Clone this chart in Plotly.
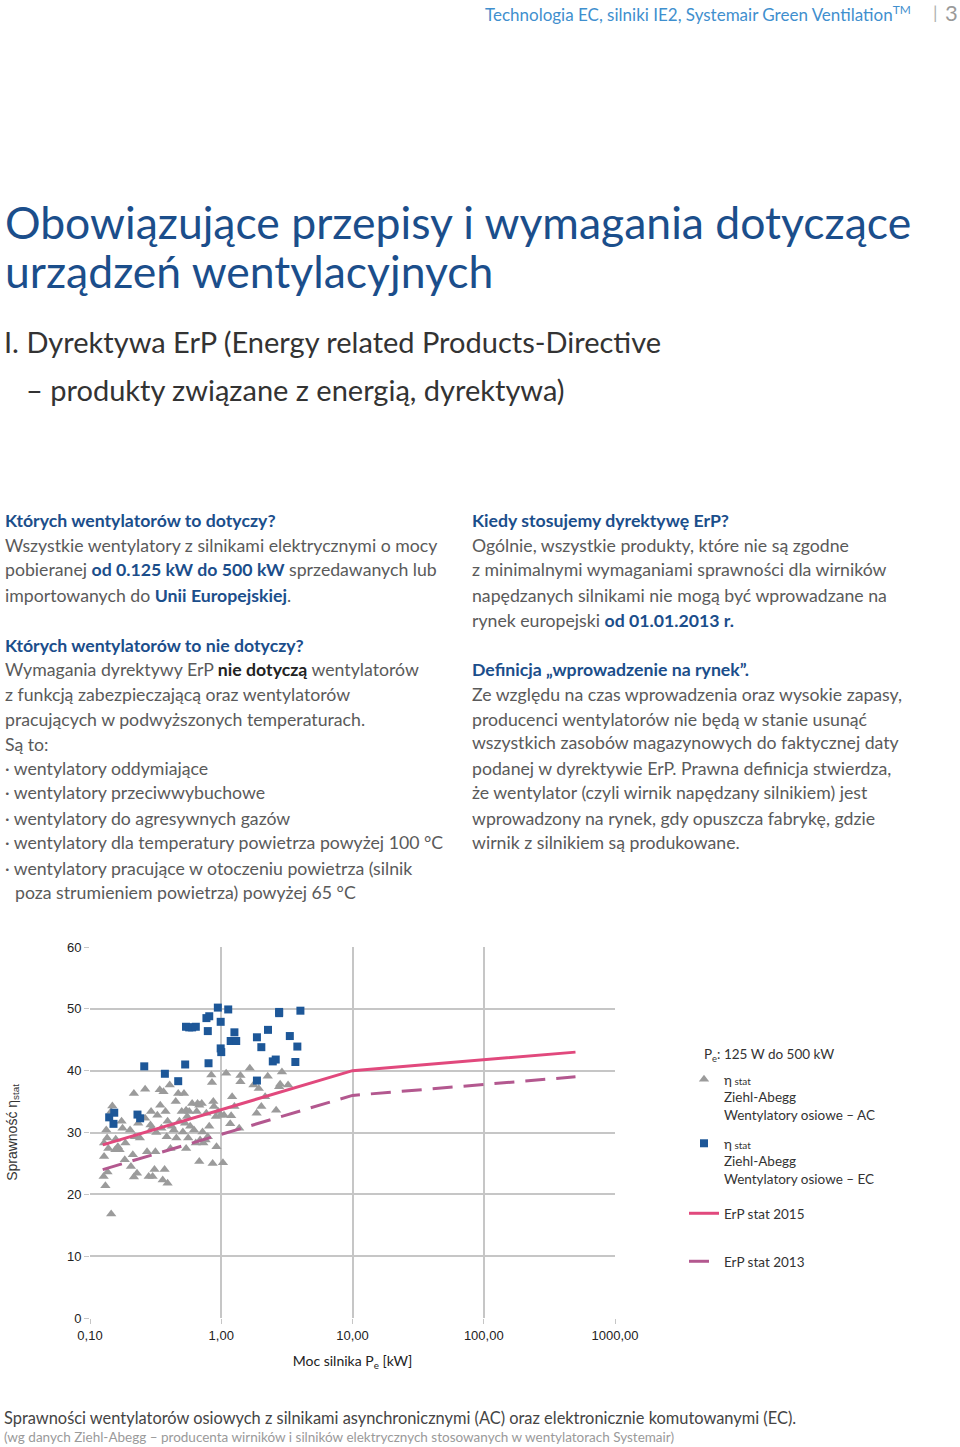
import plotly.graph_objects as go

# ---------------- data ----------------
ac_power = [0.145, 0.131, 0.127, 0.136, 0.128, 0.133, 0.128, 0.135, 0.138, 0.148,
            0.145, 0.157, 0.163, 0.168, 0.156, 0.174, 0.177, 0.184, 0.186, 0.202,
            0.205, 0.212, 0.216, 0.216, 0.22, 0.228, 0.233, 0.24, 0.263, 0.263,
            0.272, 0.28, 0.289, 0.292, 0.297, 0.30, 0.31, 0.315, 0.32, 0.326,
            0.34, 0.343, 0.35, 0.358, 0.363, 0.37, 0.376, 0.384, 0.39, 0.39,
            0.405, 0.41, 0.42, 0.435, 0.45, 0.455, 0.47, 0.48, 0.50, 0.51,
            0.52, 0.53, 0.54, 0.54, 0.55, 0.56, 0.57, 0.58, 0.60, 0.62,
            0.64, 0.65, 0.66, 0.68, 0.68, 0.69, 0.71, 0.72, 0.73, 0.76,
            0.77, 0.79, 0.81, 0.84, 0.85, 0.86, 0.87, 0.88, 0.91, 0.92,
            0.95, 0.99, 1.03, 1.05, 1.09, 1.17, 1.19, 1.21, 1.26, 1.37,
            1.40, 1.40, 1.65, 1.76, 1.86, 1.93, 2.02, 2.16, 2.26, 2.62,
            2.76, 2.81, 2.90, 3.23]
ac_eff = [16.8, 21.4, 22.9, 23.6, 26.1, 30.4, 28.3, 29.1, 27.4, 34.3,
          33.4, 28.9, 27.7, 27.2, 27.2, 31.8, 30.7, 25.6, 28.3, 30.4,
          24.5, 26.4, 22.8, 36.3, 29.3, 23.4, 31.5, 29.1, 37.0, 32.3,
          26.9, 22.9, 31.2, 33.4, 30.7, 22.9, 24.0, 26.9, 30.0, 32.8,
          36.9, 34.4, 30.7, 22.3, 36.6, 24.0, 33.4, 29.3, 31.8, 21.8,
          37.7, 27.4, 31.0, 30.4, 35.0, 29.1, 36.3, 31.8, 33.4, 30.1,
          36.3, 31.5, 33.6, 27.4, 32.6, 29.1, 33.4, 31.0, 34.7, 30.4,
          28.3, 33.4, 34.7, 25.3, 34.4, 28.8, 34.7, 30.1, 28.3, 28.8,
          33.1, 29.3, 31.0, 39.3, 38.1, 25.0, 35.0, 34.2, 32.6, 27.7,
          33.4, 32.8, 25.1, 32.8, 39.6, 31.4, 32.7, 35.8, 34.2, 30.7,
          39.2, 38.2, 40.4, 37.7, 33.1, 37.1, 34.2, 35.8, 39.1, 33.6,
          37.4, 37.8, 39.8, 37.7]

ec_power = [0.140, 0.153, 0.151, 0.230, 0.241, 0.259, 0.372, 0.470, 0.531, 0.539,
            0.57, 0.60, 0.64, 0.771, 0.81, 0.79, 0.80, 0.942, 0.99, 0.99,
            1.0, 1.13, 1.18, 1.26, 1.30, 1.87, 2.02, 1.87, 2.27, 2.47,
            2.60, 2.76, 2.76, 3.33, 3.67, 3.80, 4.01]
ec_eff = [32.45, 33.2, 31.4, 32.9, 32.3, 40.7, 39.5, 38.3, 41.0, 47.1,
          47.0, 47.0, 47.1, 48.5, 48.8, 46.4, 41.2, 50.2, 47.9, 43.6,
          43.0, 49.9, 44.8, 46.2, 44.8, 45.4, 43.8, 38.4, 46.6, 41.5,
          41.8, 49.5, 49.3, 45.6, 41.4, 43.9, 49.7]

erp_power = [0.125, 10, 500]
erp_2015 = [28.0, 40.0, 43.0]
erp_2013 = [24.0, 36.0, 39.0]

x_tickvals = [0.1, 1, 10, 100, 1000]
x_ticktext = ["0,10", "1,00", "10,00", "100,00", "1000,00"]
y_tickvals = [0, 10, 20, 30, 40, 50, 60]

# ---------------- styling ----------------
W, H = 960, 1447
BLUE = "#1b4e8b"
LIGHTBLUE = "#3f8fce"
BODY = "#5a5a5a"
BODY_FONT = "Lato, 'Open Sans', sans-serif"
ARIAL = "'Liberation Sans', Arial, sans-serif"

annotations = []


def txt(x, y, text, size, color, family=BODY_FONT, anchor="left"):
    annotations.append(dict(
        x=x / W, y=1 - y / H, xref="paper", yref="paper", text=text,
        showarrow=False, xanchor=anchor, yanchor="middle",
        font=dict(size=size, color=color, family=family)))


def b(t, color=BLUE):
    return f"<b><span style='color:{color}'>{t}</span></b>"


# header
txt(913, 14, "Technologia EC, silniki IE2, Systemair Green Ventilation<sup>TM</sup>", 17, LIGHTBLUE, anchor="right")
txt(931, 12, "|", 18, "#b0b0b0", anchor="left")
txt(943, 12, "3", 22, "#9a9a9a", anchor="left")

# title
txt(3, 222, "Obowiązujące przepisy i wymagania dotyczące", 44.5, BLUE)
txt(3, 270, "urządzeń wentylacyjnych", 44.5, BLUE)
txt(2, 341, "I. Dyrektywa ErP (Energy related Products-Directive", 29, "#333333")
txt(24, 389, "– produkty związane z energią, dyrektywa)", 29, "#333333")

# left column
FS = 17.7
left = [
    (520, b("Których wentylatorów to dotyczy?"), 0),
    (545, "Wszystkie wentylatory z silnikami elektrycznymi o mocy", 0),
    (570, "pobieranej " + b("od 0.125 kW do 500 kW") + " sprzedawanych lub", 0),
    (595, "importowanych do " + b("Unii Europejskiej") + ".", 0),
    (645, b("Których wentylatorów to nie dotyczy?"), 0),
    (669, "Wymagania dyrektywy ErP " + b("nie dotyczą", "#222222") + " wentylatorów", 0),
    (694, "z funkcją zabezpieczającą oraz wentylatorów", 0),
    (719, "pracujących w podwyższonych temperaturach.", 0),
    (744, "Są to:", 0),
    (768, "· wentylatory oddymiające", 0),
    (793, "· wentylatory przeciwwybuchowe", 0),
    (818, "· wentylatory do agresywnych gazów", 0),
    (843, "· wentylatory dla temperatury powietrza powyżej 100 °C", 0),
    (868, "· wentylatory pracujące w otoczeniu powietrza (silnik", 0),
    (893, "poza strumieniem powietrza) powyżej 65 °C", 10),
]
for y, t, dx in left:
    txt(3 + dx, y, t, FS, BODY)

right = [
    (520, b("Kiedy stosujemy dyrektywę ErP?")),
    (545, "Ogólnie, wszystkie produkty, które nie są zgodne"),
    (570, "z minimalnymi wymaganiami sprawności dla wirników"),
    (595, "napędzanych silnikami nie mogą być wprowadzane na"),
    (620, "rynek europejski " + b("od 01.01.2013 r.")),
    (669, b("Definicja „wprowadzenie na rynek”.")),
    (694, "Ze względu na czas wprowadzenia oraz wysokie zapasy,"),
    (719, "producenci wentylatorów nie będą w stanie usunąć"),
    (743, "wszystkich zasobów magazynowych do faktycznej daty"),
    (768, "podanej w dyrektywie ErP. Prawna definicja stwierdza,"),
    (793, "że wentylator (czyli wirnik napędzany silnikiem) jest"),
    (818, "wprowadzony na rynek, gdy opuszcza fabrykę, gdzie"),
    (843, "wirnik z silnikiem są produkowane."),
]
for y, t in right:
    txt(470, y, t, FS, BODY)

# legend title
txt(702, 1055, "P<sub>e</sub>: 125 W do 500 kW", 13.5, "#333333")

# caption
txt(2, 1417, "Sprawności wentylatorów osiowych z silnikami asynchronicznymi (AC) oraz elektronicznie komutowanymi (EC).", 16.4, "#444444")
txt(2, 1437, "(wg danych Ziehl-Abegg – producenta wirników i silników elektrycznych stosowanych w wentylatorach Systemair)", 13.5, "#9a9a9a")

# ---------------- figure ----------------
fig = go.Figure()
fig.add_trace(go.Scatter(
    x=ac_power, y=ac_eff, mode="markers", legend="legend",
    name="η<span style='font-size:10px'> stat</span><br>Ziehl-Abegg<br>Wentylatory osiowe – AC",
    marker=dict(symbol="triangle-up", size=9, color="#9b9b9b")))
fig.add_trace(go.Scatter(
    x=ec_power, y=ec_eff, mode="markers", legend="legend2",
    name="η<span style='font-size:10px'> stat</span><br>Ziehl-Abegg<br>Wentylatory osiowe – EC",
    marker=dict(symbol="square", size=8, color="#1d5798")))
fig.add_trace(go.Scatter(
    x=erp_power, y=erp_2015, mode="lines", legend="legend3", name="ErP stat 2015",
    line=dict(color="#e1497d", width=3)))
fig.add_trace(go.Scatter(
    x=erp_power, y=erp_2013, mode="lines", legend="legend4", name="ErP stat 2013",
    line=dict(color="#b3588f", width=3, dash="20px,11px")))

leg_common = dict(xanchor="left", yanchor="top", bgcolor="rgba(0,0,0,0)",
                  font=dict(family=BODY_FONT, size=13.5, color="#333333"),
                  valign="top", itemwidth=30, tracegroupgap=0)
LEGX = 684 / W
fig.update_layout(
    width=W, height=H,
    margin=dict(l=0, r=0, t=0, b=0, autoexpand=False),
    paper_bgcolor="white", plot_bgcolor="white",
    showlegend=True,
    legend=dict(x=LEGX, y=1 - 1064 / H, **leg_common),
    legend2=dict(x=LEGX, y=1 - 1128 / H, **leg_common),
    legend3=dict(x=LEGX, y=1 - 1198 / H, **leg_common),
    legend4=dict(x=LEGX, y=1 - 1246 / H, **leg_common),
    xaxis=dict(
        type="log", range=[-1, 3], domain=[90 / W, 615 / W], automargin=False,
        tickvals=x_tickvals, ticktext=x_ticktext,
        showgrid=True, gridcolor="#c6c6c6", gridwidth=1.5,
        ticks="outside", ticklen=5, tickcolor="#c6c6c6",
        tickfont=dict(family=ARIAL, size=13, color="#222222"),
        zeroline=False, showline=False,
        title=dict(text="Moc silnika P<sub>e</sub> [kW]", standoff=14,
                   font=dict(family=BODY_FONT, size=14, color="#222222")),
    ),
    yaxis=dict(
        range=[0, 60], domain=[1 - 1318 / H, 1 - 947 / H], automargin=False,
        tickvals=y_tickvals,
        showgrid=True, gridcolor="#c6c6c6", gridwidth=1.5,
        ticks="outside", ticklen=5, tickcolor="#c6c6c6",
        tickfont=dict(family=ARIAL, size=13, color="#222222"),
        zeroline=False, showline=False,
        title=dict(text="Sprawność η<sub>stat</sub>", standoff=46,
                   font=dict(family=ARIAL, size=14, color="#333333")),
    ),
    annotations=annotations,
)

fig.write_html("out.html", config={"displayModeBar": False},
               post_script="document.body.style.margin='0';document.body.style.padding='0';")
